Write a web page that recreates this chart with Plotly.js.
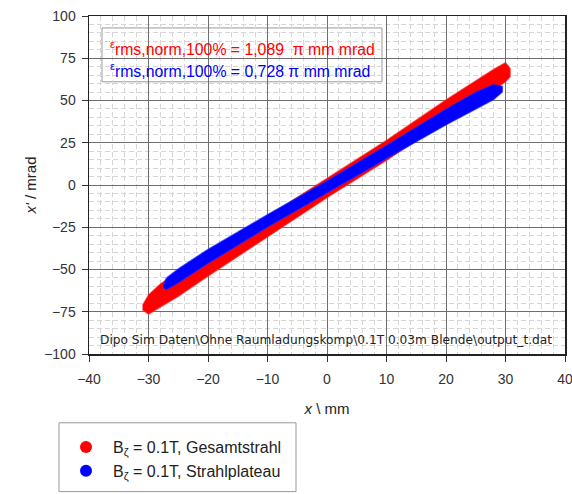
<!DOCTYPE html>
<html><head><meta charset="utf-8">
<script src="https://cdn.plot.ly/plotly-3.0.1.min.js"></script>
<style>html,body{margin:0;padding:0;background:#fff}</style>
</head><body><div id="chart" style="width:572px;height:494px"></div>
<script>
// Band outlines (x in mm, x' in mrad)
const redEdgeX   = [-31, -30, -28, -25, -20, -10, 0, 10, 20, 25, 28, 30, 30.8];
const redUpperY  = [-71, -65, -58.5, -51, -40, -18.5, 4, 26.5, 50.5, 62, 68.5, 72.5, 69];
const redLowerY  = [-74, -76.5, -72.5, -66, -54, -30.5, -7.5, 14.5, 38, 49.5, 56, 61, 64];
const blueEdgeX  = [-27.5, -27, -25, -20, -10, 0, 10, 20, 25, 28, 29.5];
const blueUpperY = [-59, -55, -49.5, -38, -17.5, 2.5, 23.5, 45, 55, 59.5, 58.5];
const blueLowerY = [-61, -62, -58, -46.5, -25, -4.5, 15.5, 35.5, 45, 50.5, 55];

const seriesNames = ['B<sub>ζ</sub> = 0.1T, Gesamtstrahl', 'B<sub>ζ</sub> = 0.1T, Strahlplateau'];
const seriesColors = ['#ff0000', '#0000ff'];
const emittanceValues = ['1,089\u00a0', '0,728'];
const xTickVals = [-40, -30, -20, -10, 0, 10, 20, 30, 40];
const yTickVals = [-100, -75, -50, -25, 0, 25, 50, 75, 100];
const filePath = 'Dipo Sim Daten\\Ohne Raumladungskomp\\0.1T 0.03m Blende\\output_t.dat';

function band(xs, up, lo, color, lineColor) {
  const x = xs.concat(xs.slice().reverse());
  const y = up.concat(lo.slice().reverse());
  return {x, y, type: 'scatter', mode: 'lines', fill: 'toself', fillcolor: color,
    line: {color: lineColor, width: 1.2}, showlegend: false, hoverinfo: 'skip'};
}

const font = 'Liberation Sans, Arial, sans-serif';
const data = [
  band(redEdgeX, redUpperY, redLowerY, seriesColors[0], 'rgba(255,40,40,0.6)'),
  band(blueEdgeX, blueUpperY, blueLowerY, seriesColors[1], 'rgba(40,40,255,0.6)'),
  {x: [null], y: [null], type: 'scatter', mode: 'markers', name: seriesNames[0],
   marker: {color: seriesColors[0], size: 12}},
  {x: [null], y: [null], type: 'scatter', mode: 'markers', name: seriesNames[1],
   marker: {color: seriesColors[1], size: 12}}
];

const axisCommon = {
  showgrid: true, gridcolor: '#6e6e6e', gridwidth: 1,
  ticks: 'outside', ticklen: 6, tickcolor: '#333', tickwidth: 1,
  showline: true, linecolor: '#222', linewidth: 1.5, mirror: true,
  zeroline: false, tickfont: {family: font, size: 14, color: '#333'},
  ticklabeloverflow: 'allow'
};

const layout = {
  width: 572, height: 494,
  margin: {l: 89, r: 7, t: 16, b: 139},
  paper_bgcolor: '#fff', plot_bgcolor: '#fff',
  font: {family: font, color: '#333'},
  xaxis: Object.assign({}, axisCommon, {
    range: [-40, 40], tickvals: xTickVals,
    minor: {dtick: 2, showgrid: true, gridcolor: '#d6d6d6', griddash: '5px,3px', gridwidth: 1},
    ticklabelstandoff: 6,
    title: {text: '<i>x</i> \\ mm', font: {family: font, size: 15, color: '#222'}, standoff: 17}
  }),
  yaxis: Object.assign({}, axisCommon, {
    range: [-100, 100], tickvals: yTickVals,
    minor: {dtick: 5, showgrid: true, gridcolor: '#d6d6d6', griddash: '5px,3px', gridwidth: 1},
    ticklabelstandoff: 3,
    title: {text: '<i>x\'</i> / mrad', font: {family: font, size: 15, color: '#222'}, standoff: 4}
  }),
  legend: {x: -0.063, y: -0.2212, xanchor: 'left', yanchor: 'top',
    borderwidth: 0, bgcolor: 'rgba(0,0,0,0)',
    font: {family: font, size: 16, color: '#222'}, itemwidth: 44},
  shapes: [
    {type: 'rect', xref: 'paper', yref: 'paper', x0: 0.0273, x1: 0.6155, y0: 0.8053, y1: 0.9646,
     line: {color: '#999', width: 1}, fillcolor: '#fff', layer: 'below'},
    {type: 'rect', xref: 'paper', yref: 'paper', x0: -0.063, x1: 0.4349, y0: -0.4071, y1: -0.2035,
     line: {color: '#999', width: 1}, fillcolor: 'rgba(0,0,0,0)', layer: 'above'}
  ],
  annotations: [
    {xref: 'paper', yref: 'paper', x: 0.04, y: 0.9056, xanchor: 'left', yanchor: 'middle', showarrow: false,
     text: '<sup>ε</sup>rms,norm,100% = ' + emittanceValues[0] + ' π mm mrad',
     font: {family: font, size: 15.8, color: seriesColors[0]}},
    {xref: 'paper', yref: 'paper', x: 0.04, y: 0.8407, xanchor: 'left', yanchor: 'middle', showarrow: false,
     text: '<sup>ε</sup>rms,norm,100% = ' + emittanceValues[1] + ' π mm mrad',
     font: {family: font, size: 15.8, color: seriesColors[1]}},
    {xref: 'paper', yref: 'paper', x: 0.019, y: 0.0413, xanchor: 'left', yanchor: 'middle', showarrow: false,
     text: filePath, font: {family: 'DejaVu Sans, sans-serif', size: 12.2, color: '#222'}}
  ]
};

Plotly.newPlot('chart', data, layout, {displayModeBar: false, staticPlot: true});
</script></body></html>
